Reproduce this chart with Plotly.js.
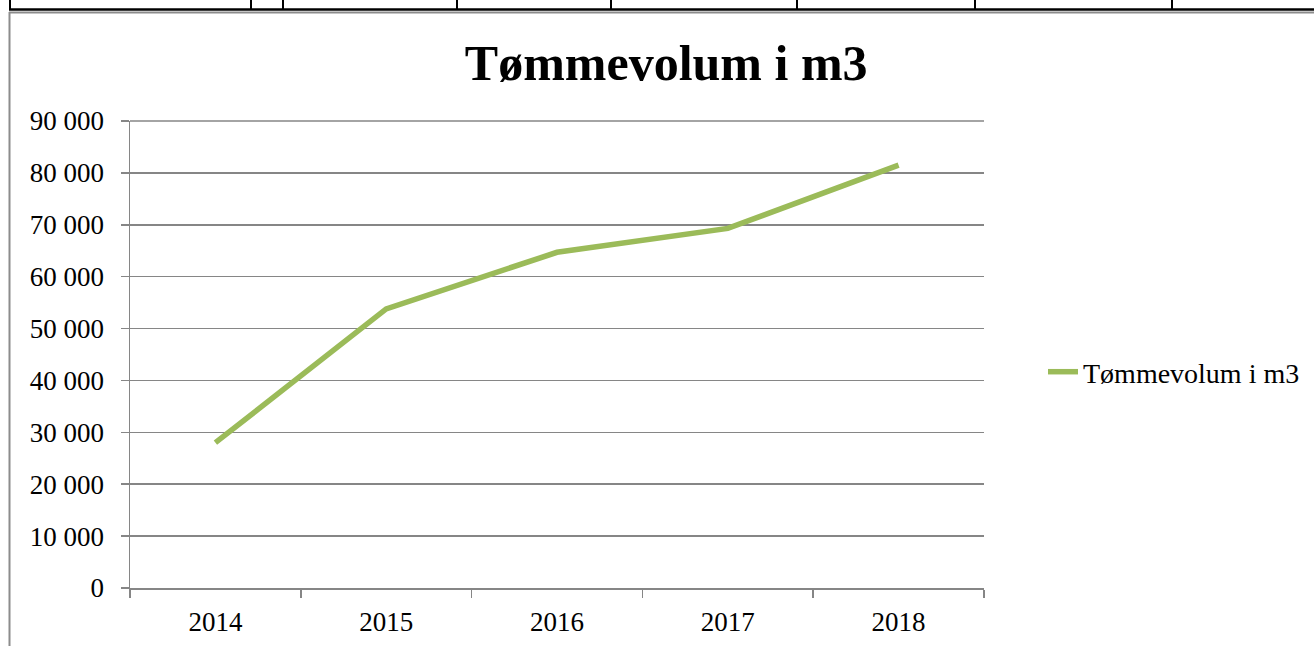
<!DOCTYPE html>
<html>
<head>
<meta charset="utf-8">
<script src="https://cdn.plot.ly/plotly-3.0.1.min.js"></script>
<style>
html,body{margin:0;padding:0;background:#fff;}
#chart{width:1314px;height:646px;}
</style>
</head>
<body>
<div id="chart"></div>
<script>
// ---- data ----
var years = ["2014", "2015", "2016", "2017", "2018"];
var volume = [28000, 53800, 64700, 69300, 81500];
var seriesName = "Tømmevolum i m3";
var chartTitle = "Tømmevolum i m3";
var yTicks = [0, 10000, 20000, 30000, 40000, 50000, 60000, 70000, 80000, 90000];

// ---- layout geometry ----
var W = 1314, H = 646;
var M = {l: 130, r: 330, t: 121, b: 58, autoexpand: false};
var PW = W - M.l - M.r, PH = H - M.t - M.b;
function px(x){ return (x - M.l) / PW; }
function py(y){ return (H - M.b - y) / PH; }

var FONT = "'Liberation Serif', 'DejaVu Serif', serif";
var GRID = "#868686";

// decorative page borders (table row above, frame at left)
var shapes = [];
shapes.push({type:"line", xref:"paper", yref:"paper", x0:px(9), x1:px(1320), y0:py(9.5), y1:py(9.5), line:{color:"#000", width:2.5}});
shapes.push({type:"line", xref:"paper", yref:"paper", x0:px(9), x1:px(1320), y0:py(12.5), y1:py(12.5), line:{color:"#8c8c8c", width:2}});
shapes.push({type:"line", xref:"paper", yref:"paper", x0:px(9.5), x1:px(9.5), y0:py(12), y1:py(650), line:{color:"#8c8c8c", width:2}});
[10, 251, 283, 457, 611, 797, 975, 1172].forEach(function(x){
  shapes.push({type:"line", xref:"paper", yref:"paper", x0:px(x), x1:px(x), y0:py(-2), y1:py(10), line:{color:"#000", width:2}});
});
// top gridline (Plotly omits the gridline lying on the plot edge)
shapes.push({type:"line", xref:"paper", yref:"paper", x0:0, x1:1, y0:1, y1:1, line:{color:GRID, width:1.5}, layer:"below"});

var trace = {
  x: years, y: volume, name: seriesName, type: "scatter", mode: "lines",
  line: {color: "#9BBB59", width: 5.5}
};

var layout = {
  width: W, height: H,
  margin: M,
  paper_bgcolor: "#fff", plot_bgcolor: "#fff",
  separators: ", ",
  font: {family: FONT, size: 27, color: "#000"},
  title: {
    text: "<b>" + chartTitle + "</b>",
    font: {family: FONT, size: 50, color: "#000"},
    xref: "container", x: 0.507, xanchor: "center",
    yref: "container", y: 1 - 62/646, yanchor: "middle",
    automargin: false
  },
  xaxis: {
    type: "category", range: [-0.5, 4.5], automargin: false,
    showline: true, linecolor: GRID, linewidth: 1.5,
    ticks: "outside", tickson: "boundaries", ticklen: 8, tickcolor: GRID, tickwidth: 1.5,
    showgrid: false, zeroline: false,
    ticklabelstandoff: 9,
    tickfont: {family: FONT, size: 27, color: "#000"}
  },
  yaxis: {
    range: [0, 90000], tickvals: yTicks, tickformat: ",d", automargin: false,
    showline: true, linecolor: GRID, linewidth: 1.5,
    ticks: "outside", ticklen: 8, tickcolor: GRID, tickwidth: 1.5,
    showgrid: true, gridcolor: GRID, gridwidth: 1.5, zeroline: false,
    ticklabelstandoff: 11,
    tickfont: {family: FONT, size: 27, color: "#000"}
  },
  showlegend: true,
  legend: {
    x: px(1043), xanchor: "left", y: py(372), yanchor: "middle",
    font: {family: FONT, size: 28, color: "#000"},
    bgcolor: "rgba(0,0,0,0)", borderwidth: 0
  },
  shapes: shapes
};

Plotly.newPlot("chart", [trace], layout, {displayModeBar: false, staticPlot: true});
</script>
</body>
</html>
